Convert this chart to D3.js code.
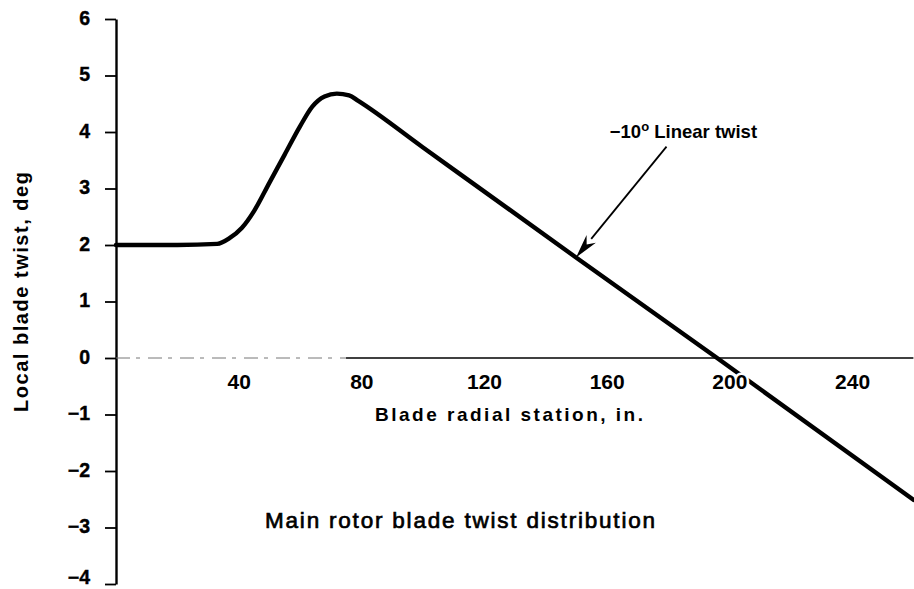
<!DOCTYPE html>
<html>
<head>
<meta charset="utf-8">
<script src="https://cdn.jsdelivr.net/npm/d3@7"></script>
<style>
  html, body { margin: 0; padding: 0; background: #fff; }
  svg { display: block; font-family: "Liberation Sans", Arial, Helvetica, sans-serif; }
</style>
</head>
<body>
<svg id="chart" width="914" height="589"></svg>
<script>
// ---- data ----
const stationIn = [0, 20, 33, 37, 41, 45, 50, 55, 60, 64, 68, 72, 76, 79, 100, 150, 196, 260];
const twistDeg  = [2.0, 2.0, 2.02, 2.12, 2.3, 2.6, 3.1, 3.6, 4.1, 4.45, 4.63, 4.68, 4.65, 4.55, 3.73, 1.78, 0.0, -2.51];
const xTickValues = [40, 80, 120, 160, 200, 240];
const yTickValues = [-4, -3, -2, -1, 0, 1, 2, 3, 4, 5, 6];
const xTitle = "Blade radial station, in.";
const yTitle = "Local blade twist, deg";
const chartTitle = "Main rotor blade twist distribution";
const annotationLabel = ["\u221210", "o", " Linear twist"];
const annotationText = [161, 3.9];      // data coords of label start
const annotationFrom = [179.5, 3.74];   // arrow tail (data coords)
const annotationTo   = [150, 1.78];     // arrow tip on the curve (data coords)

// ---- layout ----
const svg = d3.select("#chart");
const x = d3.scaleLinear().domain([0, 260]).range([116, 913.4]);
const y = d3.scaleLinear().domain([-4, 6]).range([584, 19]);

// y axis
const yAxis = d3.axisLeft(y).tickValues(yTickValues).tickSize(11).tickSizeOuter(0).tickPadding(15)
  .tickFormat(d3.format("d"));
const gy = svg.append("g").attr("transform", `translate(${x(0)},0)`).call(yAxis);
gy.select(".domain").attr("stroke", "#000").attr("stroke-width", 2.4);
gy.selectAll(".tick line").attr("stroke", "#000").attr("stroke-width", 1.8);
gy.selectAll(".tick text").attr("font-size", 19.5).attr("font-weight", "bold").attr("fill", "#000")
  .attr("font-family", "'Liberation Sans', Arial, sans-serif")
  .attr("dy", d => d === -4 ? "-0.05em" : "0.28em")
  .attr("stroke", "#000").attr("stroke-width", 0.4);

// zero line (x axis): faint dashed start, then solid
svg.append("line")
  .attr("x1", x(0)).attr("x2", x(75)).attr("y1", y(0)).attr("y2", y(0))
  .attr("stroke", "#777").attr("stroke-width", 1).attr("stroke-dasharray", "14,6,4,8");
svg.append("line")
  .attr("x1", x(75)).attr("x2", x(260)).attr("y1", y(0)).attr("y2", y(0))
  .attr("stroke", "#000").attr("stroke-width", 1.6);

// curve
const line = d3.line().x((d, i) => x(stationIn[i])).y((d, i) => y(twistDeg[i])).curve(d3.curveMonotoneX);
svg.append("path")
  .datum(twistDeg)
  .attr("d", line)
  .attr("fill", "none")
  .attr("stroke", "#000")
  .attr("stroke-width", 4.4)
  .attr("stroke-linejoin", "round")
  .attr("stroke-linecap", "round");

// x tick labels (no tick marks), with white halo over the curve
const xAxis = d3.axisBottom(x).tickValues(xTickValues).tickSize(0).tickPadding(16).tickFormat(d3.format("d"));
const gx = svg.append("g").attr("transform", `translate(0,${y(0)})`).call(xAxis);
gx.select(".domain").remove();
gx.selectAll(".tick text").attr("font-size", 21).attr("font-weight", "bold").attr("fill", "#000")
  .attr("font-family", "'Liberation Sans', Arial, sans-serif")
  .attr("stroke", "#fff").attr("stroke-width", 5).attr("paint-order", "stroke");

// axis titles
svg.append("text")
  .attr("x", 509).attr("y", 421)
  .attr("text-anchor", "middle")
  .attr("font-size", 19).attr("font-weight", "bold")
  .attr("textLength", 268).attr("lengthAdjust", "spacing")
  .text(xTitle);

svg.append("text")
  .attr("transform", "translate(28,292) rotate(-90)")
  .attr("text-anchor", "middle")
  .attr("font-size", 20).attr("font-weight", "bold")
  .attr("textLength", 240).attr("lengthAdjust", "spacing")
  .text(yTitle);

// chart title
svg.append("text")
  .attr("x", 460).attr("y", 528)
  .attr("text-anchor", "middle")
  .attr("font-size", 22.5)
  .attr("stroke", "#000").attr("stroke-width", 0.7)
  .attr("textLength", 390).attr("lengthAdjust", "spacing")
  .text(chartTitle);

// annotation
const ann = svg.append("text")
  .attr("x", x(annotationText[0])).attr("y", y(annotationText[1]))
  .attr("font-size", 18.5).attr("font-weight", "bold");
ann.append("tspan").text(annotationLabel[0]);
ann.append("tspan").attr("dy", -7).attr("font-size", 13).text(annotationLabel[1]);
ann.append("tspan").attr("dy", 7).text(annotationLabel[2]);

const x0 = x(annotationFrom[0]), y0 = y(annotationFrom[1]);
const x1 = x(annotationTo[0]), y1 = y(annotationTo[1]);
const ang = Math.atan2(y1 - y0, x1 - x0);
const headLen = 24, headW = 6;
const bx = x1 - headLen * Math.cos(ang), by = y1 - headLen * Math.sin(ang);
svg.append("line")
  .attr("x1", x0).attr("y1", y0).attr("x2", bx).attr("y2", by)
  .attr("stroke", "#000").attr("stroke-width", 1.8);
const px = -Math.sin(ang), py = Math.cos(ang);
const notch = 0.7;
const nx = x1 - headLen * notch * Math.cos(ang), ny = y1 - headLen * notch * Math.sin(ang);
svg.append("path")
  .attr("d", `M${x1},${y1} L${bx + px * headW},${by + py * headW} L${nx},${ny} L${bx - px * headW},${by - py * headW} Z`)
  .attr("fill", "#000");
</script>
</body>
</html>
